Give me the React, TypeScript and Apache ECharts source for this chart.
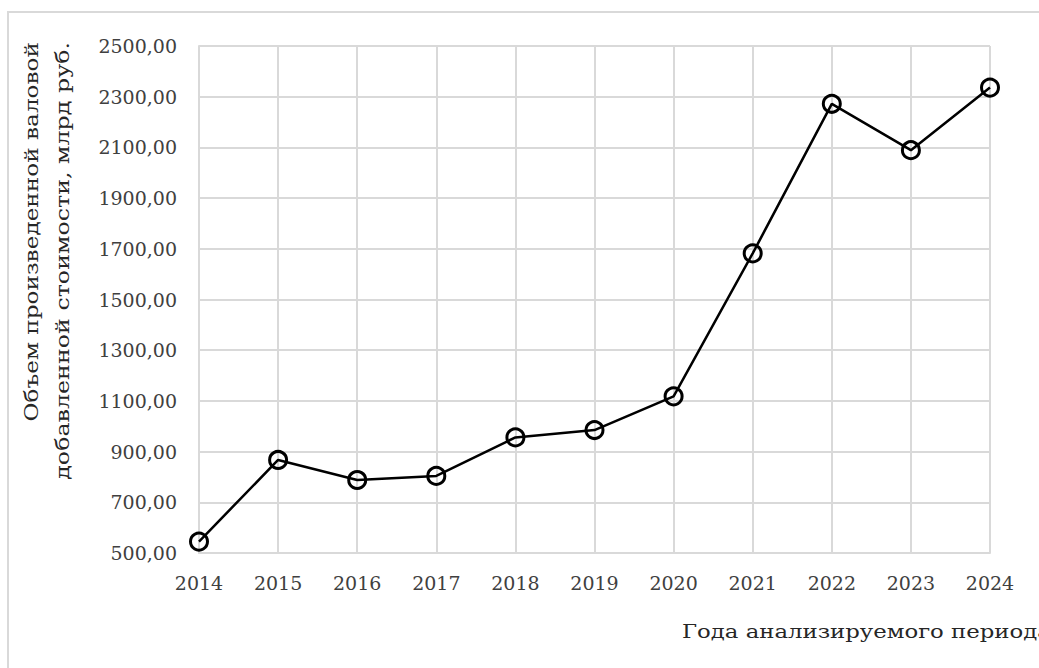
import React, { useEffect, useRef } from "react";
import * as echarts from "echarts";

const years = ["2014", "2015", "2016", "2017", "2018", "2019", "2020", "2021", "2022", "2023", "2024"];
const values = [545, 867, 788, 804, 956, 985, 1118, 1682, 2272, 2089, 2336];
const yTitleLine1 = "Объем произведенной валовой";
const yTitleLine2 = "добавленной стоимости, млрд руб.";
const xTitle = "Года анализируемого периода";

const FONT = "DejaVu Serif";

export default function App() {
  const ref = useRef<HTMLDivElement>(null);
  useEffect(() => {
    if (!ref.current) return;
    const chart = echarts.init(ref.current, null, { renderer: "svg" });
    chart.setOption({
      animation: false,
      backgroundColor: "#ffffff",
      grid: { left: 199, right: 49, top: 46, bottom: 115, containLabel: false },
      xAxis: {
        type: "category",
        data: years,
        boundaryGap: false,
        axisLine: { lineStyle: { color: "#d9d9d9", width: 2 } },
        axisTick: { show: false },
        axisLabel: { fontFamily: FONT, fontSize: 19, color: "#404040", margin: 20 },
        splitLine: { show: true, lineStyle: { color: "#d9d9d9", width: 2 } },
      },
      yAxis: {
        type: "value",
        min: 500,
        max: 2500,
        interval: 200,
        axisLine: { show: true, lineStyle: { color: "#d9d9d9", width: 2 } },
        axisTick: { show: false },
        axisLabel: {
          fontFamily: FONT,
          fontSize: 19,
          color: "#404040",
          margin: 22,
          formatter: (v: number) => v.toFixed(2).replace(".", ","),
        },
        splitLine: { show: true, lineStyle: { color: "#d9d9d9", width: 2 } },
      },
      series: [
        {
          type: "line",
          data: values,
          symbol: "circle",
          symbolSize: 17,
          lineStyle: { color: "#000000", width: 2.5 },
          itemStyle: { color: "rgba(0,0,0,0)", borderColor: "#000000", borderWidth: 3 },
        },
      ],
      graphic: [
        {
          type: "rect",
          shape: { x: 8, y: 12, width: 1200, height: 800 },
          style: { fill: "none", stroke: "#d9d9d9", lineWidth: 2 },
          silent: true,
        },
        {
          type: "text",
          x: 31,
          y: 42,
          rotation: Math.PI / 2,
          scaleX: 1.22,
          style: {
            text: yTitleLine1,
            fontFamily: FONT,
            fontSize: 19,
            fill: "#262626",
            textAlign: "right",
            textVerticalAlign: "middle",
          },
        },
        {
          type: "text",
          x: 62,
          y: 42,
          rotation: Math.PI / 2,
          scaleX: 1.25,
          style: {
            text: yTitleLine2,
            fontFamily: FONT,
            fontSize: 19,
            fill: "#262626",
            textAlign: "right",
            textVerticalAlign: "middle",
          },
        },
        {
          type: "text",
          x: 682,
          y: 632,
          scaleX: 1.2,
          style: {
            text: xTitle,
            fontFamily: FONT,
            fontSize: 19,
            fill: "#262626",
            textAlign: "left",
            textVerticalAlign: "middle",
          },
        },
      ],
    });
    return () => chart.dispose();
  }, []);
  return (
    <div
      ref={ref}
      style={{ position: "fixed", left: 0, top: 0, width: 1039, height: 668 }}
    />
  );
}
